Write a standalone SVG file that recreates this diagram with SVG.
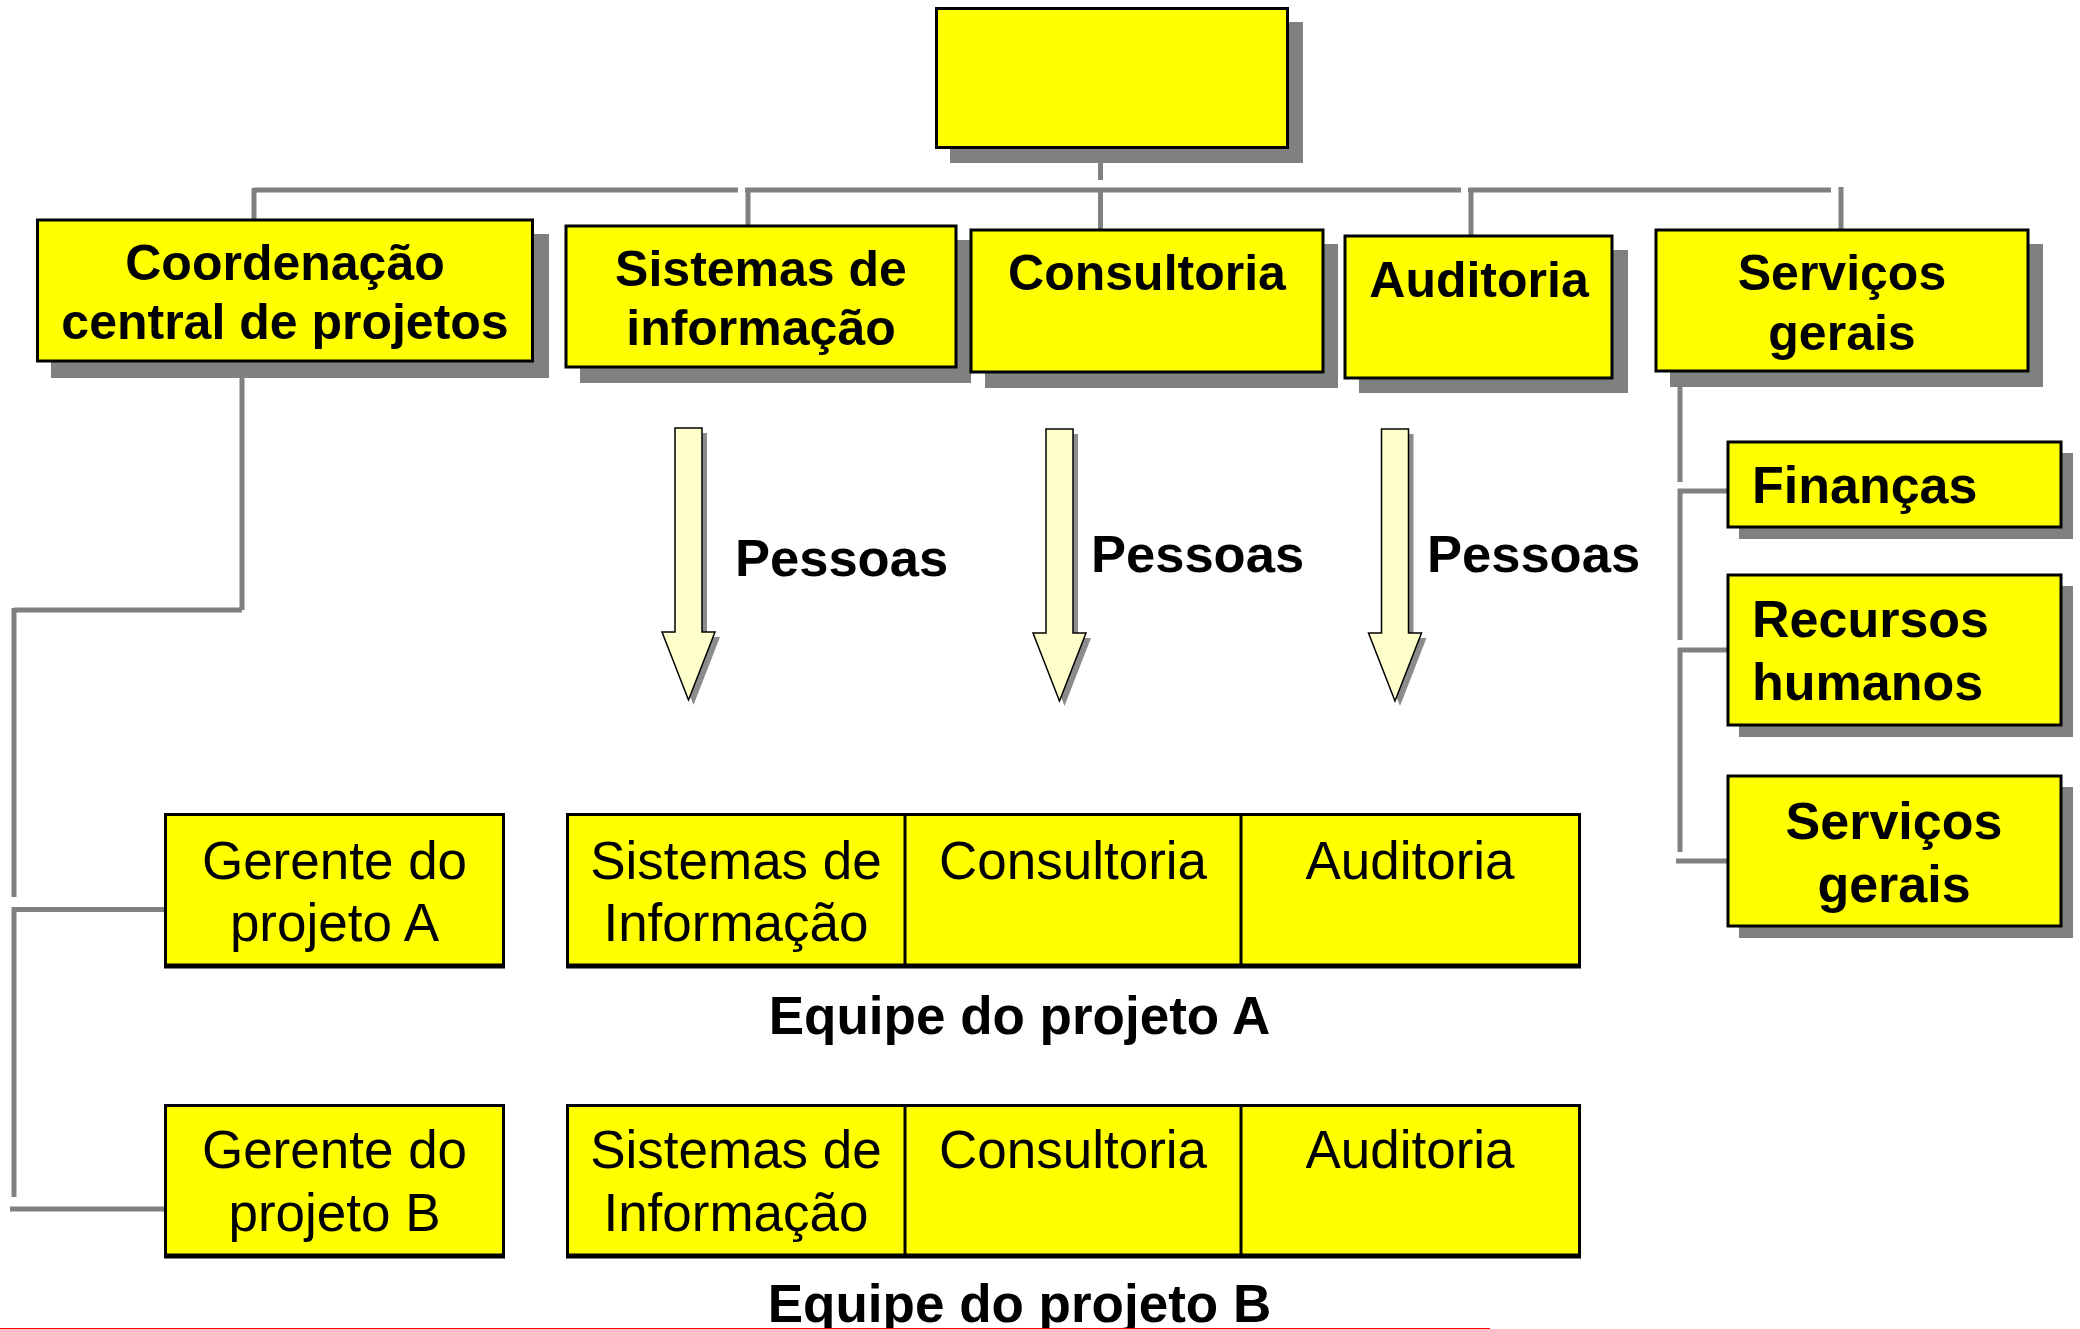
<svg xmlns="http://www.w3.org/2000/svg" xmlns:xlink="http://www.w3.org/1999/xlink" width="2080" height="1329" viewBox="0 0 2080 1329">
<style>
  .box{fill:#FFFF00;stroke:#000;stroke-width:3}
  .sh{fill:#808080}
  .con{stroke:#808080;stroke-width:5;fill:none}
  .b{font-family:"Liberation Sans",Arial,sans-serif;font-weight:bold;fill:#000}
  .r{font-family:"Liberation Sans",Arial,sans-serif;font-weight:normal;fill:#000}
  .arr{fill:#FFFFCC;stroke:#000;stroke-width:1.5}
  .arrsh{fill:#8c8c8c}
  .bot{stroke:#000;stroke-width:5}
</style>
<defs>
  <path id="arrow" d="M -13.5 0 L 13.5 0 L 13.5 204 L 26.5 204 L 0 272 L -26.5 204 L -13.5 204 Z"/>
</defs>
<rect width="2080" height="1329" fill="#FFFFFF"/>

<g id="connectors">
  <line class="con" x1="1100.5" y1="148" x2="1100.5" y2="180"/>
  <rect x="1091" y="149" width="7" height="14" fill="#FFFFFF"/>
  <line class="con" x1="254" y1="190" x2="738" y2="190"/>
  <line class="con" x1="745" y1="190" x2="1461" y2="190"/>
  <line class="con" x1="1468" y1="190" x2="1831" y2="190"/>
  <line class="con" x1="254" y1="188" x2="254" y2="220"/>
  <line class="con" x1="748" y1="190" x2="748" y2="226"/>
  <line class="con" x1="1100.5" y1="190" x2="1100.5" y2="230"/>
  <line class="con" x1="1471" y1="190" x2="1471" y2="236"/>
  <line class="con" x1="1841" y1="187" x2="1841" y2="230"/>
  <line class="con" x1="242" y1="378" x2="242" y2="610"/>
  <line class="con" x1="14" y1="610" x2="242" y2="610"/>
  <line class="con" x1="14" y1="608" x2="14" y2="897"/>
  <line class="con" x1="12" y1="909.5" x2="170" y2="909.5"/>
  <line class="con" x1="14" y1="907" x2="14" y2="1197"/>
  <line class="con" x1="10" y1="1209" x2="170" y2="1209"/>
  <line class="con" x1="1680" y1="387" x2="1680" y2="482"/>
  <line class="con" x1="1678" y1="491" x2="1733" y2="491"/>
  <line class="con" x1="1680" y1="489" x2="1680" y2="640"/>
  <line class="con" x1="1678" y1="650" x2="1733" y2="650"/>
  <line class="con" x1="1680" y1="648" x2="1680" y2="852"/>
  <line class="con" x1="1676" y1="861" x2="1733" y2="861"/>
</g>

<g id="top">
  <rect class="sh" x="950" y="22" width="353" height="141"/>
  <rect class="box" x="936.5" y="8.5" width="351" height="139"/>
</g>

<g id="coordenacao">
  <rect class="sh" x="51" y="234" width="498" height="144"/>
  <rect class="box" x="37.5" y="220" width="495" height="141"/>
  <text class="b" font-size="50" text-anchor="middle" x="285" y="280">Coordenação</text>
  <text class="b" font-size="50" text-anchor="middle" x="285" y="339">central de projetos</text>
</g>

<g id="sistemas">
  <rect class="sh" x="580" y="240" width="391" height="143"/>
  <rect class="box" x="566" y="226" width="390" height="141"/>
  <text class="b" font-size="50" text-anchor="middle" x="761" y="286">Sistemas de</text>
  <text class="b" font-size="50" text-anchor="middle" x="761" y="345">informação</text>
</g>

<g id="consultoria">
  <rect class="sh" x="985" y="244" width="353" height="144"/>
  <rect class="box" x="971" y="230" width="352" height="142"/>
  <text class="b" font-size="50" text-anchor="middle" x="1147" y="290">Consultoria</text>
</g>

<g id="auditoria">
  <rect class="sh" x="1359" y="250" width="269" height="143"/>
  <rect class="box" x="1345" y="236" width="267" height="142"/>
  <text class="b" font-size="50" text-anchor="middle" x="1479" y="297">Auditoria</text>
</g>

<g id="servicos">
  <rect class="sh" x="1670" y="244" width="373" height="143"/>
  <rect class="box" x="1656" y="230" width="372" height="141"/>
  <text class="b" font-size="50" text-anchor="middle" x="1842" y="290">Serviços</text>
  <text class="b" font-size="50" text-anchor="middle" x="1842" y="350">gerais</text>
</g>

<g id="financas">
  <rect class="sh" x="1739" y="453" width="334" height="86"/>
  <rect class="box" x="1728" y="442" width="333" height="85"/>
  <text class="b" font-size="52" x="1752" y="503">Finanças</text>
</g>

<g id="recursos">
  <rect class="sh" x="1739" y="586" width="334" height="151"/>
  <rect class="box" x="1728" y="575" width="333" height="150"/>
  <text class="b" font-size="52" x="1752" y="637">Recursos</text>
  <text class="b" font-size="52" x="1752" y="700">humanos</text>
</g>

<g id="servicos2">
  <rect class="sh" x="1739" y="787" width="334" height="151"/>
  <rect class="box" x="1728" y="776" width="333" height="150"/>
  <text class="b" font-size="52" text-anchor="middle" x="1894" y="839">Serviços</text>
  <text class="b" font-size="52" text-anchor="middle" x="1894" y="902">gerais</text>
</g>

<g id="arrow1">
  <use xlink:href="#arrow" href="#arrow" class="arrsh" transform="translate(693.5,433)"/>
  <use xlink:href="#arrow" href="#arrow" class="arr" transform="translate(688.5,428)"/>
  <text class="b" font-size="52.5" x="735" y="576">Pessoas</text>
</g>
<g id="arrow2">
  <use xlink:href="#arrow" href="#arrow" class="arrsh" transform="translate(1064.5,434)"/>
  <use xlink:href="#arrow" href="#arrow" class="arr" transform="translate(1059.5,429)"/>
  <text class="b" font-size="52.5" x="1091" y="572">Pessoas</text>
</g>
<g id="arrow3">
  <use xlink:href="#arrow" href="#arrow" class="arrsh" transform="translate(1400,434)"/>
  <use xlink:href="#arrow" href="#arrow" class="arr" transform="translate(1395,429)"/>
  <text class="b" font-size="52.5" x="1427" y="572">Pessoas</text>
</g>

<g id="gerenteA">
  <rect class="box" x="165.5" y="814.5" width="338" height="152"/>
  <line class="bot" x1="164" y1="966" x2="505" y2="966"/>
  <text class="r" font-size="53" text-anchor="middle" x="334.5" y="879">Gerente do</text>
  <text class="r" font-size="53" text-anchor="middle" x="334.5" y="941">projeto A</text>
</g>

<g id="equipeA">
  <rect class="box" x="567.5" y="814.5" width="1012" height="152"/>
  <line class="bot" x1="566" y1="966" x2="1581" y2="966"/>
  <line stroke="#000" stroke-width="3" x1="905" y1="814.5" x2="905" y2="966.5"/>
  <line stroke="#000" stroke-width="3" x1="1241" y1="814.5" x2="1241" y2="966.5"/>
  <text class="r" font-size="53" text-anchor="middle" x="736" y="879">Sistemas de</text>
  <text class="r" font-size="53" text-anchor="middle" x="736" y="941">Informação</text>
  <text class="r" font-size="53" text-anchor="middle" x="1073" y="879">Consultoria</text>
  <text class="r" font-size="53" text-anchor="middle" x="1410" y="879">Auditoria</text>
  <text class="b" font-size="53" text-anchor="middle" x="1019.5" y="1034">Equipe do projeto A</text>
</g>

<g id="gerenteB">
  <rect class="box" x="165.5" y="1105.5" width="338" height="151"/>
  <line class="bot" x1="164" y1="1256" x2="505" y2="1256"/>
  <text class="r" font-size="53" text-anchor="middle" x="334.5" y="1168">Gerente do</text>
  <text class="r" font-size="53" text-anchor="middle" x="334.5" y="1231">projeto B</text>
</g>

<g id="equipeB">
  <rect class="box" x="567.5" y="1105.5" width="1012" height="151"/>
  <line class="bot" x1="566" y1="1256" x2="1581" y2="1256"/>
  <line stroke="#000" stroke-width="3" x1="905" y1="1105.5" x2="905" y2="1256.5"/>
  <line stroke="#000" stroke-width="3" x1="1241" y1="1105.5" x2="1241" y2="1256.5"/>
  <text class="r" font-size="53" text-anchor="middle" x="736" y="1168">Sistemas de</text>
  <text class="r" font-size="53" text-anchor="middle" x="736" y="1231">Informação</text>
  <text class="r" font-size="53" text-anchor="middle" x="1073" y="1168">Consultoria</text>
  <text class="r" font-size="53" text-anchor="middle" x="1410" y="1168">Auditoria</text>
  <text class="b" font-size="53" text-anchor="middle" x="1019.5" y="1322">Equipe do projeto B</text>
</g>

<line x1="0" y1="1328.5" x2="1490" y2="1328.5" stroke="#FF0000" stroke-width="1"/>
</svg>
